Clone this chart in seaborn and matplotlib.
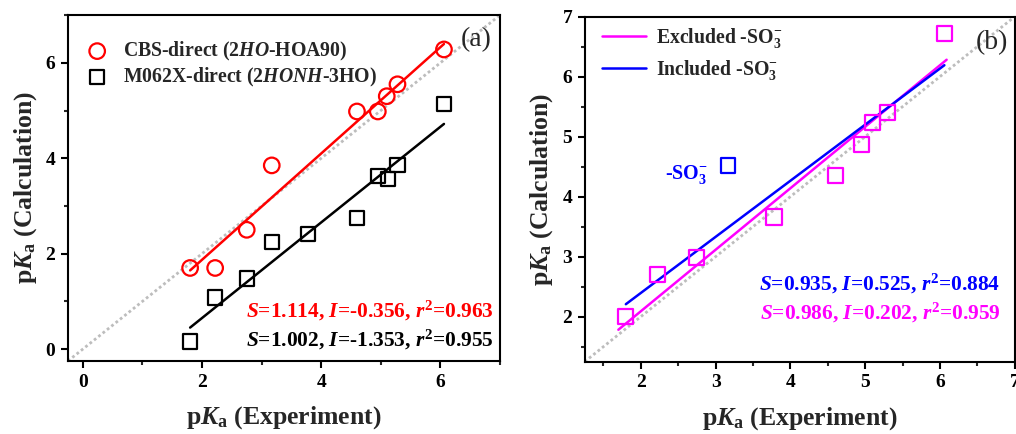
import numpy as np
import pandas as pd
import seaborn as sns
import matplotlib
matplotlib.use("Agg")
import matplotlib.pyplot as plt
from matplotlib.ticker import MultipleLocator

# ---------------- data ----------------
# panel (a)
cbs_x = [1.80, 2.22, 2.75, 3.17, 4.60, 4.95, 5.10, 5.28, 6.06]
cbs_y = [1.70, 1.70, 2.50, 3.85, 4.98, 4.98, 5.30, 5.55, 6.28]
m06_x = [1.80, 2.22, 2.75, 3.17, 3.78, 4.60, 4.95, 5.12, 5.28, 6.06]
m06_y = [0.16, 1.08, 1.48, 2.25, 2.41, 2.75, 3.62, 3.56, 3.86, 5.14]
cbs_fit = (1.114, -0.356)   # slope, intercept
m06_fit = (1.002, -1.353)
fit_a_range = [1.80, 6.06]

# panel (b)
exc_x = [1.80, 2.22, 2.75, 3.78, 4.60, 4.95, 5.10, 5.30, 6.06]
exc_y = [2.00, 2.70, 2.98, 3.66, 4.35, 4.87, 5.23, 5.40, 6.72]
so3_x = [3.17]
so3_y = [4.52]
inc_fit = (0.935, 0.525)
inc_range = [1.80, 6.06]
exc_fit_drawn = (1.025, 0.04)   # line as drawn in the figure
exc_range = [1.70, 6.09]

lim_a = [-0.25, 7.0]
lim_b = [1.25, 7.0]

labels_a = ["CBS-direct ($\\mathit{2HO}$-HOA90)",
            "M062X-direct ($\\mathit{2HONH}$-3HO)"]
stats_a = ["$\\mathit{S}$=1.114, $\\mathit{I}$=-0.356, $\\mathit{r}^\\mathrm{2}$=0.963",
           "$\\mathit{S}$=1.002, $\\mathit{I}$=-1.353, $\\mathit{r}^\\mathrm{2}$=0.955"]
labels_b = ["Excluded -SO$_\\mathrm{3}^\\mathrm{-}$",
            "Included -SO$_\\mathrm{3}^\\mathrm{-}$"]
stats_b = ["$\\mathit{S}$=0.935, $\\mathit{I}$=0.525, $\\mathit{r}^\\mathrm{2}$=0.884",
           "$\\mathit{S}$=0.986, $\\mathit{I}$=0.202, $\\mathit{r}^\\mathrm{2}$=0.959"]

RED = "#FF0000"
BLACK = "#000000"
MAG = "#FF00FF"
BLUE = "#0000FF"
GRAY = "#BDBDBD"

# ---------------- style ----------------
sns.set_theme(style="ticks")
plt.rcParams["font.family"] = ["Liberation Serif", "DejaVu Serif"]
plt.rcParams["font.weight"] = "bold"
plt.rcParams["mathtext.fontset"] = "custom"
plt.rcParams["mathtext.rm"] = "Liberation Serif:bold"
plt.rcParams["mathtext.bf"] = "Liberation Serif:bold"
plt.rcParams["mathtext.it"] = "Liberation Serif:bold:italic"
plt.rcParams["axes.linewidth"] = 1.5

fig = plt.figure(figsize=(10.16, 4.34), dpi=100)
axa = fig.add_axes([0.0669, 0.1682, 0.4252, 0.797])
axb = fig.add_axes([0.5755, 0.1666, 0.4232, 0.795])

def fit_line(ax, fit, rng, color):
    xs = np.array(rng)
    ys = fit[0] * xs + fit[1]
    sns.lineplot(x=xs, y=ys, ax=ax, color=color, lw=1.8, sort=False,
                 estimator=None)

def diag(ax, lim):
    sns.lineplot(x=lim, y=lim, ax=ax, color=GRAY, lw=2.0, sort=False,
                 estimator=None, linestyle=(0, (1, 1)))

def style_axes(ax, lim, major, minor):
    ax.set_xlim(lim)
    ax.set_ylim(lim)
    ax.xaxis.set_major_locator(MultipleLocator(major))
    ax.yaxis.set_major_locator(MultipleLocator(major))
    ax.xaxis.set_minor_locator(MultipleLocator(minor))
    ax.yaxis.set_minor_locator(MultipleLocator(minor))
    ax.tick_params(which="major", direction="out", length=5, width=1.5,
                   labelsize=14, pad=4, colors=BLACK)
    ax.tick_params(which="minor", direction="out", length=3, width=1.5)
    for s in ax.spines.values():
        s.set_visible(True)
        s.set_linewidth(1.5)
        s.set_color(BLACK)
    for lab in ax.get_xticklabels() + ax.get_yticklabels():
        lab.set_fontweight("bold")
    ax.set_xlabel("p$\\mathit{K}_\\mathrm{a}$ (Experiment)", fontsize=18.5,
                  fontweight="bold", labelpad=10)
    ax.set_ylabel("p$\\mathit{K}_\\mathrm{a}$ (Calculation)", fontsize=18.5,
                  fontweight="bold", labelpad=5)

# ---------------- panel (a) ----------------
diag(axa, lim_a)
fit_line(axa, cbs_fit, fit_a_range, RED)
fit_line(axa, m06_fit, fit_a_range, BLACK)
sns.scatterplot(x=cbs_x, y=cbs_y, ax=axa, marker="o", s=125,
                facecolor="none", edgecolor=RED, linewidth=1.6,
                label=labels_a[0], zorder=3)
sns.scatterplot(x=m06_x, y=m06_y, ax=axa, marker="s", s=105,
                facecolor="none", edgecolor=BLACK, linewidth=1.6,
                label=labels_a[1], zorder=3)
style_axes(axa, lim_a, 2, 1)
leg = axa.legend(loc="upper left", bbox_to_anchor=(-0.01, 0.98), frameon=False,
                 fontsize=14.2, handletextpad=0.5, labelspacing=0.15,
                 borderaxespad=0.5, handlelength=1.6)
for t in leg.get_texts():
    t.set_fontweight("bold")
axa.text(0.981, 0.928, "(a)", transform=axa.transAxes, ha="right",
         va="center", fontsize=20, fontweight="normal")
axa.text(0.986, 0.145, stats_a[0], transform=axa.transAxes, ha="right",
         va="center", fontsize=15.4, color=RED, fontweight="bold")
axa.text(0.986, 0.061, stats_a[1], transform=axa.transAxes, ha="right",
         va="center", fontsize=15.4, color=BLACK, fontweight="bold")

# ---------------- panel (b) ----------------
diag(axb, lim_b)
fit_line(axb, exc_fit_drawn, exc_range, MAG)
fit_line(axb, inc_fit, inc_range, BLUE)
axb.lines[1].set_label(labels_b[0])
axb.lines[2].set_label(labels_b[1])
sns.scatterplot(x=exc_x, y=exc_y, ax=axb, marker="s", s=120,
                facecolor="none", edgecolor=MAG, linewidth=1.6, zorder=3)
sns.scatterplot(x=so3_x, y=so3_y, ax=axb, marker="s", s=105,
                facecolor="none", edgecolor=BLUE, linewidth=1.6, zorder=3)
style_axes(axb, lim_b, 1, 0.5)
legb = axb.legend(handles=[axb.lines[1], axb.lines[2]],
                  loc="upper left", bbox_to_anchor=(0.0, 1.025), frameon=False,
                  fontsize=14.2, handletextpad=0.5, labelspacing=0.4,
                  borderaxespad=0.5, handlelength=2.2)
for t in legb.get_texts():
    t.set_fontweight("bold")
axb.text(0.984, 0.925, "(b)", transform=axb.transAxes, ha="right",
         va="center", fontsize=20, fontweight="normal")
axb.text(0.965, 0.225, stats_b[0], transform=axb.transAxes, ha="right",
         va="center", fontsize=15.4, color=BLUE, fontweight="bold")
axb.text(0.965, 0.140, stats_b[1], transform=axb.transAxes, ha="right",
         va="center", fontsize=15.4, color=MAG, fontweight="bold")
axb.text(2.90, 4.29, "-SO$_\\mathrm{3}^\\mathrm{-}$", ha="right",
         va="baseline", fontsize=14.5, color=BLUE, fontweight="bold")

fig.savefig("out.png", dpi=100)
